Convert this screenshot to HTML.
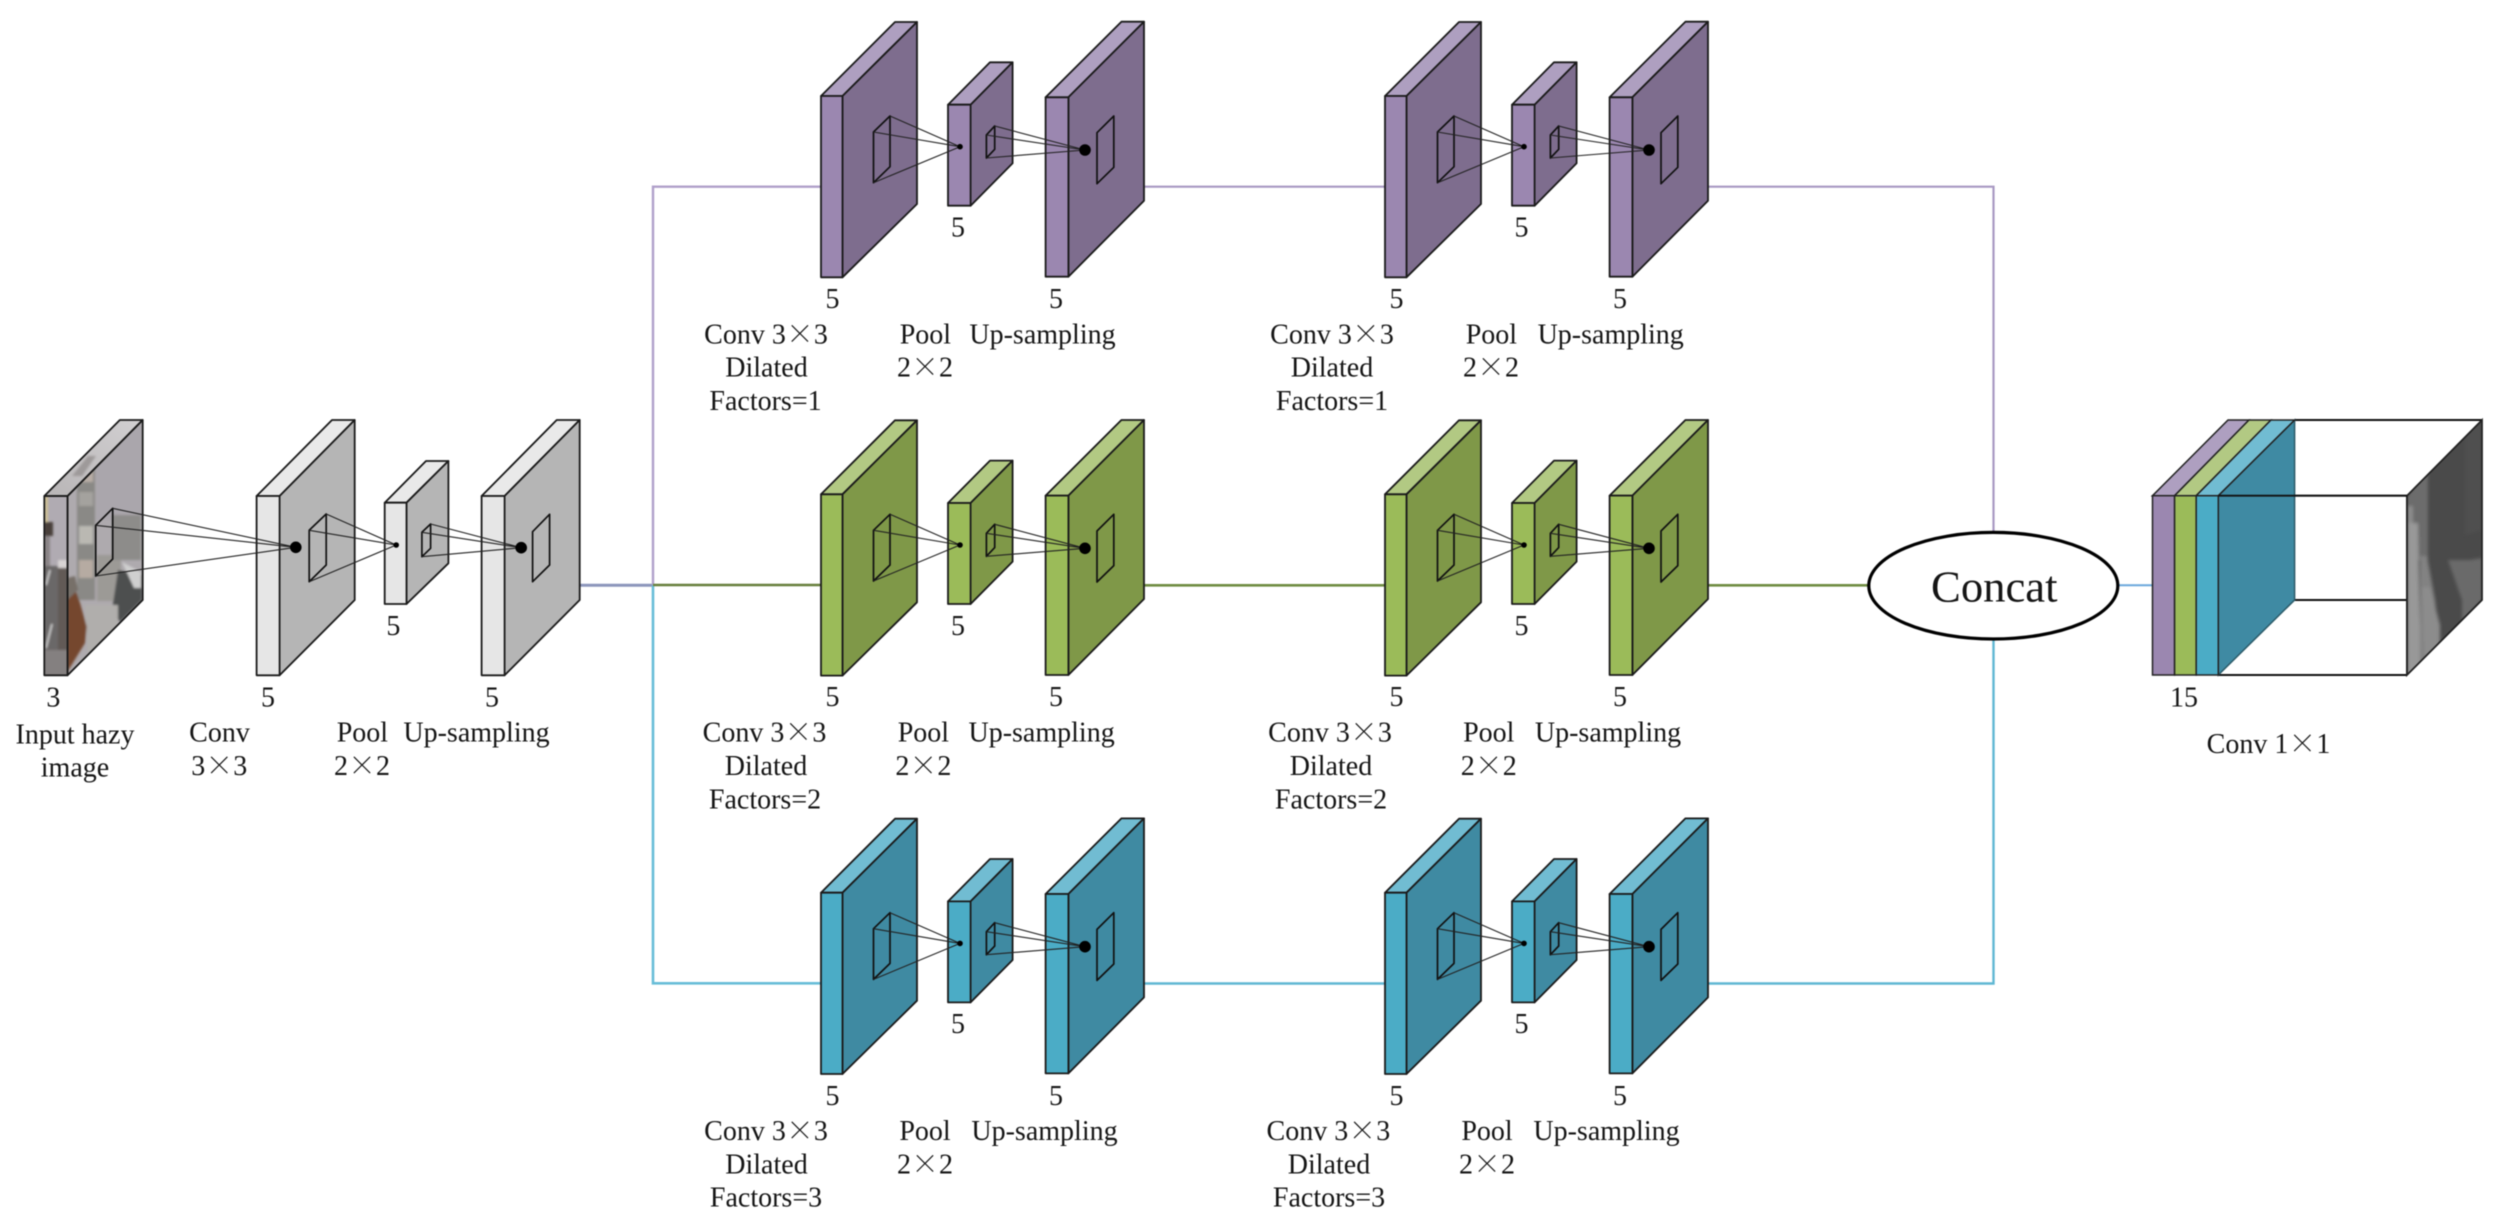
<!DOCTYPE html>
<html><head><meta charset="utf-8"><title>Dehazing network diagram</title>
<style>
html,body{margin:0;padding:0;background:#fff;width:2505px;height:1231px;overflow:hidden}
svg{display:block;filter:blur(.45px)}
text{font-family:"Liberation Serif","Noto Serif CJK SC",serif;font-size:28px;fill:#151515;text-anchor:middle}
.x{font-family:"Noto Serif CJK SC","Liberation Serif",serif;font-weight:300}
.f{fill:var(--f)}.t{fill:var(--t)}.s{fill:var(--s)}
.e{stroke:#1b1b1b;stroke-width:1.8;stroke-linejoin:round}
.w{fill:none;stroke:#111;stroke-width:1.7;stroke-linejoin:round}
.c{fill:none;stroke:#222;stroke-width:1.1}
</style></head><body>
<svg width="2505" height="1231" viewBox="0 0 2505 1231" xmlns="http://www.w3.org/2000/svg">
<defs>
<g id="block">
 <polygon class="t e" points="821,96 895,22 917,22 842.5,96"/>
 <polygon class="s e" points="842.5,96 917,22 917,204 842.5,277.3"/>
 <rect class="f e" x="821" y="96" width="21.5" height="181.3"/>
 <polygon class="t e" points="948,104.7 990,62.3 1012.6,62.3 970.6,104.7"/>
 <polygon class="s e" points="970.6,104.7 1012.6,62.3 1012.6,163.3 970.6,205.7"/>
 <rect class="f e" x="948" y="104.7" width="22.6" height="101"/>
 <polygon class="t e" points="1045.6,97.3 1121.4,21.7 1144,21.7 1068.4,97.3"/>
 <polygon class="s e" points="1068.4,97.3 1144,21.7 1144,200.7 1068.4,276.7"/>
 <rect class="f e" x="1045.6" y="97.3" width="22.8" height="179.4"/>
 <polygon class="w" points="873.5,132 890,116 890,166.7 873.5,182.7"/>
 <polygon class="w" points="986.4,135 994.7,126 994.7,149.3 986.4,158"/>
 <polygon class="w" points="1097,132.7 1113.8,116 1113.8,167.3 1097,183.7"/>
 <path class="c" d="M890,116L960,146.7M873.5,132L960,146.7M873.5,182.7L960,146.7M994.7,126L1085,150M986.4,135L1085,150M986.4,158L1085,150"/>
 <circle cx="960" cy="146.7" r="2.8" fill="#000"/>
 <circle cx="1085" cy="150" r="5.8" fill="#000"/>
</g>
<clipPath id="inF"><rect x="44.3" y="496" width="23.3" height="179.3"/></clipPath>
<clipPath id="inS"><polygon points="67.6,496 142.7,420 142.7,600 67.6,675.3"/></clipPath>
<clipPath id="inT"><polygon points="44.3,496 119.8,420 142.7,420 67.6,496"/></clipPath>
<clipPath id="outS"><polygon points="2407,495.7 2482,420 2482,600 2407,675"/></clipPath>
<filter id="b1" x="-20%" y="-20%" width="140%" height="140%"><feGaussianBlur stdDeviation="1"/></filter>
<filter id="b2" x="-20%" y="-20%" width="140%" height="140%"><feGaussianBlur stdDeviation="1.6"/></filter>
<linearGradient id="inTop" x1="0" y1="1" x2="1" y2="0"><stop offset="0" stop-color="#b8b5b6"/><stop offset="1" stop-color="#d2d0d2"/></linearGradient>
</defs>

<!-- connectors -->
<g fill="none">
 <path d="M580,585.3H653" stroke="#8c95bb" stroke-width="3"/>
 <path d="M653,585.3V186.7H822" stroke="#b0a0ca" stroke-width="2.4"/>
 <path d="M653,585.3V983.3H822" stroke="#68bdd8" stroke-width="2.6"/>
 <path d="M653,585H822" stroke="#667f3c" stroke-width="2.6"/>
 <path d="M1144,186.7H1385M1708,186.7H1993.5V533" stroke="#a898c2" stroke-width="2.2"/>
 <path d="M1144,585.3H1385M1708,585.3H1870" stroke="#6f8c42" stroke-width="2.6"/>
 <path d="M1144,983.5H1385M1708,983.5H1993.5V639" stroke="#5fb7d3" stroke-width="2.4"/>
 <path d="M2118,585.3H2153" stroke="#6aa8dc" stroke-width="2"/>
</g>

<!-- input image layer -->
<g>
 <polygon points="44.3,496 119.8,420 142.7,420 67.6,496" fill="url(#inTop)"/>
 <g clip-path="url(#inT)"><polygon filter="url(#b1)" points="72,476 88,456 96,456 82,476" fill="#9e9a9a"/></g>
 <rect x="44.3" y="496" width="23.3" height="179.3" fill="#b0abb2"/>
 <g clip-path="url(#inF)">
  <g filter="url(#b1)">
   <rect x="44" y="496" width="4" height="26" fill="#cdbf94"/>
   <rect x="44" y="522" width="9" height="14" fill="#4a403a"/>
   <rect x="44" y="536" width="6" height="30" fill="#8a8486"/>
   <rect x="44" y="566" width="24" height="110" fill="#6a6767"/>
   <rect x="58" y="566" width="10" height="110" fill="#625a56"/>
   <rect x="44" y="650" width="24" height="26" fill="#848080"/>
   <path d="M46,585L50,570M46,648L52,624" stroke="#dcdcdc" stroke-width="1.5" fill="none"/>
   <rect x="58" y="560" width="10" height="8" fill="#d8d4d4"/>
  </g>
 </g>
 <polygon points="67.6,496 142.7,420 142.7,600 67.6,675.3" fill="#aeaaae"/>
 <g clip-path="url(#inS)">
  <g filter="url(#b1)">
   <rect x="96" y="425" width="47" height="95" fill="#aaa6ac"/>
   <rect x="77" y="455" width="18" height="145" fill="#8a8986"/>
   <rect x="79" y="470" width="14" height="12" fill="#b8ada6"/>
   <rect x="79" y="492" width="14" height="14" fill="#a4a29e"/>
   <rect x="79" y="526" width="14" height="18" fill="#bab8b2"/>
   <rect x="79" y="560" width="14" height="18" fill="#b6aba2"/>
   <rect x="97" y="555" width="24" height="46" fill="#9c9a96"/>
   <rect x="112" y="515" width="29" height="45" fill="#8d8c8a"/>
   <polygon points="118,570 142,575 142,600 120,622 112,610" fill="#4e4f50"/>
   <polygon points="122,562 141,572 141,588 134,588" fill="#cfcfcf"/>
   <polygon points="85,605 118,605 118,624 88,656 86,630" fill="#b0aeac"/>
   <polygon points="67.3,596.7 73.3,583.3 80,603 86.7,626.7 85,643 67.3,672" fill="#74472f"/>
   <polygon points="67.3,578 75,576 78,590 67.3,600" fill="#777069"/>
  </g>
 </g>
 <polygon class="e" fill="none" points="44.3,496 119.8,420 142.7,420 67.6,496"/>
 <polygon class="e" fill="none" points="67.6,496 142.7,420 142.7,600 67.6,675.3"/>
 <rect class="e" fill="none" x="44.3" y="496" width="23.3" height="179.3"/>
</g>

<!-- gray layers -->
<g style="--f:#e6e6e6;--t:#e9e9e9;--s:#b5b5b5">
 <polygon class="t e" points="256.6,496 332,420 354.7,420 279.6,496"/>
 <polygon class="s e" points="279.6,496 354.7,420 354.7,600 279.6,675.3"/>
 <rect class="f e" x="256.6" y="496" width="23" height="179.3"/>
 <polygon class="t e" points="384.7,502.7 426,461 448.4,461 406.5,502.7"/>
 <polygon class="s e" points="406.5,502.7 448.4,461 448.4,563.3 406.5,604"/>
 <rect class="f e" x="384.7" y="502.7" width="21.8" height="101.3"/>
 <polygon class="t e" points="481.6,496 556.7,420 579.7,420 504.6,496"/>
 <polygon class="s e" points="504.6,496 579.7,420 579.7,600 504.6,675.3"/>
 <rect class="f e" x="481.6" y="496" width="23" height="179.3"/>
 <polygon class="w" points="95.7,525.3 112.7,508.3 112.7,559 95.7,576"/>
 <polygon class="w" points="309.2,530.3 326.2,514 326.2,565 309.2,581.7"/>
 <polygon class="w" points="421.9,532.3 430.6,524 430.6,548.3 421.9,556.7"/>
 <polygon class="w" points="532.6,531.7 549.6,514.3 549.6,565 532.6,581.7"/>
 <path class="c" d="M112.7,508.3L295.8,547.3M95.7,525.3L295.8,547.3M95.7,576L295.8,547.3M326.2,514L396.2,545M309.2,530.3L396.2,545M309.2,581.7L396.2,545M430.6,524L521.2,547.7M421.9,532.3L521.2,547.7M421.9,556.7L521.2,547.7"/>
 <circle cx="295.8" cy="547.3" r="5.8" fill="#000"/>
 <circle cx="396.2" cy="545" r="2.8" fill="#000"/>
 <circle cx="521.2" cy="547.7" r="5.8" fill="#000"/>
</g>

<!-- blocks -->
<g style="--f:#9b87b0;--t:#ae9fc0;--s:#7e6d8e">
 <use href="#block"/><use href="#block" x="564"/>
</g>
<g style="--f:#9bbb59;--t:#b2c983;--s:#7f9848">
 <use href="#block" y="398.3"/><use href="#block" x="564" y="398.3"/>
</g>
<g style="--f:#4bacc6;--t:#71bcd2;--s:#3f8aa2">
 <use href="#block" y="796.7"/><use href="#block" x="564" y="796.7"/>
</g>

<!-- concat ellipse -->
<ellipse cx="1993.3" cy="585.7" rx="124.5" ry="53.3" fill="#fff" stroke="#000" stroke-width="3.2"/>
<text x="1994.3" y="601.7" style="font-size:44px" textLength="126.5" lengthAdjust="spacingAndGlyphs">Concat</text>

<!-- output stack -->
<g>
 <polygon points="2218.3,495.7 2407,495.7 2407,675 2218.3,675" fill="#fff"/>
 <path d="M2294.6,420H2482M2218.3,495.7H2407M2218.3,675H2407M2294.6,600H2407M2407,495.7V675" fill="none" stroke="#111" stroke-width="1.9"/>
 <polygon points="2407,495.7 2482,420 2482,600 2407,675" fill="#4a4a4a"/>
 <g clip-path="url(#outS)">
  <g filter="url(#b2)">
   <polygon points="2407,496 2428,470 2428,560 2407,560" fill="#6c6c6c"/>
   <rect x="2407" y="506" width="6" height="60" fill="#8c8c8c"/>
   <polygon points="2407,523 2418,523 2421,680 2407,680" fill="#989898"/>
   <polygon points="2420,556 2427,556 2435,600 2440,646 2428,660 2420,668" fill="#828282"/>
   <polygon points="2422,587 2430,587 2440,625 2440,645 2428,655 2424,655" fill="#8c8c8c"/>
   <polygon points="2465,424 2482,424 2482,530 2465,535" fill="#505050"/>
   <polygon points="2448,560 2465,560 2470,560 2482,558 2482,600 2462,622 2462,600" fill="#6b6b6b"/>
  </g>
 </g>
 <polygon points="2407,495.7 2482,420 2482,600 2407,675" fill="none" stroke="#222" stroke-width="1.8"/>
 <polygon points="2218.3,495.7 2294.6,420 2294.6,600 2218.3,675" fill="#3f8aa3" stroke="#2b5a68" stroke-width="1.5"/>
 <polygon points="2152.5,495.7 2228,420 2249,420 2174.6,495.7" fill="#ae9fc0" stroke="#222" stroke-width="1.5"/>
 <polygon points="2174.6,495.7 2249,420 2271,420 2196.2,495.7" fill="#b2c983" stroke="#222" stroke-width="1.5"/>
 <polygon points="2196.2,495.7 2271,420 2294.6,420 2218.3,495.7" fill="#71bcd2" stroke="#222" stroke-width="1.5"/>
 <rect x="2152.5" y="495.7" width="22.1" height="179.3" fill="#9b87b0" stroke="#222" stroke-width="1.5"/>
 <rect x="2174.6" y="495.7" width="21.6" height="179.3" fill="#9bbb59" stroke="#222" stroke-width="1.5"/>
 <rect x="2196.2" y="495.7" width="22.1" height="179.3" fill="#4bacc6" stroke="#222" stroke-width="1.5"/>
 <path d="M2218.3,495.7H2407" stroke="#111" stroke-width="1.9"/>
</g>

<!-- left labels -->
<text x="53.4" y="706.7">3</text>
<text x="268" y="706.7">5</text>
<text x="393.4" y="635">5</text>
<text x="492" y="706.7">5</text>
<text x="75" y="743.3">Input hazy</text>
<text x="75" y="776.7">image</text>
<text x="219.5" y="741.7">Conv</text>
<text x="219.3" y="775">3<tspan class="x">×</tspan>3</text>
<text x="362.4" y="741.7">Pool</text>
<text x="362" y="775">2<tspan class="x">×</tspan>2</text>
<text x="476.5" y="741.7">Up-sampling</text>

<!-- row 1 column 1 -->
<text x="832.5" y="308">5</text><text x="958" y="236.7">5</text><text x="1056" y="308">5</text>
<text x="766" y="343.3">Conv 3<tspan class="x">×</tspan>3</text>
<text x="766.5" y="376.7">Dilated</text>
<text x="765.5" y="410">Factors=1</text>
<text x="925.4" y="343.3">Pool</text>
<text x="925" y="376.7">2<tspan class="x">×</tspan>2</text>
<text x="1042.5" y="343.3">Up-sampling</text>

<!-- row 1 column 2 -->
<text x="1396.5" y="308">5</text><text x="1521.5" y="236.7">5</text><text x="1620" y="308">5</text>
<text x="1332" y="343.3">Conv 3<tspan class="x">×</tspan>3</text>
<text x="1332" y="376.7">Dilated</text>
<text x="1332" y="410">Factors=1</text>
<text x="1491.4" y="343.3">Pool</text>
<text x="1491" y="376.7">2<tspan class="x">×</tspan>2</text>
<text x="1610.7" y="343.3">Up-sampling</text>

<!-- row 2 column 1 -->
<text x="832.5" y="706">5</text><text x="958" y="635">5</text><text x="1056" y="706">5</text>
<text x="764.5" y="741.7">Conv 3<tspan class="x">×</tspan>3</text>
<text x="766" y="775">Dilated</text>
<text x="765" y="808.3">Factors=2</text>
<text x="923.4" y="741.7">Pool</text>
<text x="923.4" y="775">2<tspan class="x">×</tspan>2</text>
<text x="1041.6" y="741.7">Up-sampling</text>

<!-- row 2 column 2 -->
<text x="1396.5" y="706">5</text><text x="1521.5" y="635">5</text><text x="1620" y="706">5</text>
<text x="1330" y="741.7">Conv 3<tspan class="x">×</tspan>3</text>
<text x="1331" y="775">Dilated</text>
<text x="1331" y="808.3">Factors=2</text>
<text x="1488.8" y="741.7">Pool</text>
<text x="1488.8" y="775">2<tspan class="x">×</tspan>2</text>
<text x="1608" y="741.7">Up-sampling</text>

<!-- row 3 column 1 -->
<text x="832.5" y="1105">5</text><text x="958" y="1033">5</text><text x="1056" y="1105">5</text>
<text x="766" y="1140">Conv 3<tspan class="x">×</tspan>3</text>
<text x="766.5" y="1173.3">Dilated</text>
<text x="766" y="1206.7">Factors=3</text>
<text x="925" y="1140">Pool</text>
<text x="925" y="1173.3">2<tspan class="x">×</tspan>2</text>
<text x="1044.5" y="1140">Up-sampling</text>

<!-- row 3 column 2 -->
<text x="1396.5" y="1105">5</text><text x="1521.5" y="1033">5</text><text x="1620" y="1105">5</text>
<text x="1328.4" y="1140">Conv 3<tspan class="x">×</tspan>3</text>
<text x="1329" y="1173.3">Dilated</text>
<text x="1329" y="1206.7">Factors=3</text>
<text x="1487" y="1140">Pool</text>
<text x="1487" y="1173.3">2<tspan class="x">×</tspan>2</text>
<text x="1606.5" y="1140">Up-sampling</text>

<!-- output labels -->
<text x="2184" y="706.7">15</text>
<text x="2268.5" y="753">Conv 1<tspan class="x">×</tspan>1</text>
</svg>
</body></html>
